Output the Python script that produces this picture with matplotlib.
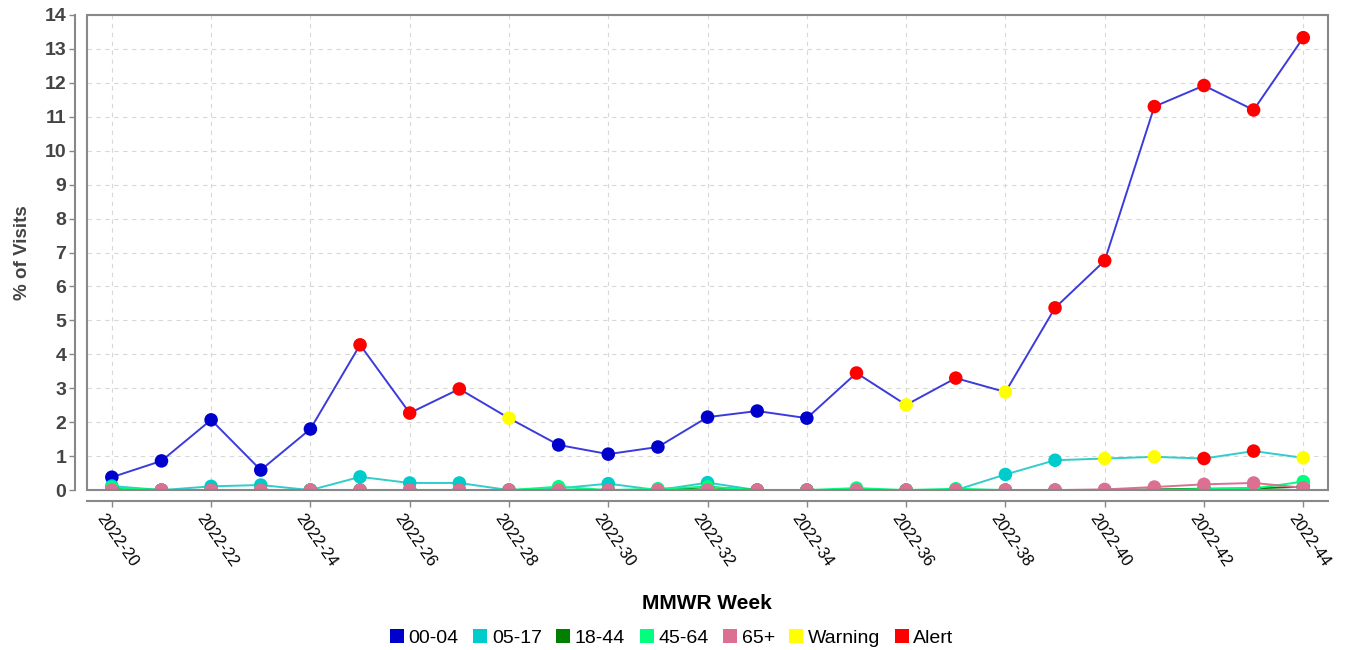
import numpy as np
import matplotlib
matplotlib.use('Agg')
import matplotlib.pyplot as plt
import matplotlib.transforms as mtransforms
from matplotlib.lines import Line2D
from matplotlib.patches import Rectangle

plt.rcParams['font.family'] = ['Liberation Sans', 'DejaVu Sans']

weeks = list(range(20, 45))
week_labels = ['2022-%d' % w for w in weeks]

age_00_04 = [0.38, 0.86, 2.07, 0.59, 1.80, 4.28, 2.27, 2.98, 2.12, 1.33, 1.06, 1.27, 2.15,
             2.33, 2.12, 3.45, 2.51, 3.30, 2.89, 5.37, 6.76, 11.30, 11.92, 11.20, 13.33]
flag_00_04 = ['N', 'N', 'N', 'N', 'N', 'A', 'A', 'A', 'W', 'N', 'N', 'N', 'N',
              'N', 'N', 'A', 'W', 'A', 'W', 'A', 'A', 'A', 'A', 'A', 'A']
age_05_17 = [0.12, 0.00, 0.11, 0.15, 0.00, 0.39, 0.21, 0.21, 0.00, 0.05, 0.19, 0.00, 0.22,
             0.00, 0.00, 0.00, 0.00, 0.00, 0.46, 0.88, 0.93, 0.98, 0.93, 1.15, 0.95]
flag_05_17 = ['N', 'N', 'N', 'N', 'N', 'N', 'N', 'N', 'N', 'N', 'N', 'N', 'N',
              'N', 'N', 'N', 'N', 'N', 'N', 'N', 'W', 'W', 'A', 'A', 'W']
age_18_44 = [0.05, 0.00, 0.00, 0.00, 0.00, 0.00, 0.00, 0.00, 0.00, 0.00, 0.00, 0.00, 0.09,
             0.00, 0.00, 0.00, 0.00, 0.00, 0.00, 0.00, 0.00, 0.02, 0.04, 0.05, 0.10]
age_45_64 = [0.08, 0.00, 0.00, 0.00, 0.00, 0.00, 0.00, 0.00, 0.00, 0.10, 0.00, 0.04, 0.10,
             0.00, 0.00, 0.06, 0.00, 0.04, 0.00, 0.00, 0.00, 0.00, 0.03, 0.05, 0.25]
age_65 = [0.00, 0.00, 0.00, 0.00, 0.00, 0.00, 0.00, 0.00, 0.00, 0.00, 0.00, 0.00, 0.00,
          0.00, 0.00, 0.00, 0.00, 0.00, 0.00, 0.00, 0.02, 0.09, 0.17, 0.21, 0.07]

flag_colors = {'W': '#ffff00', 'A': '#ff0000'}

series = [
    ('00-04', age_00_04, flag_00_04, '#3b3bdc', '#0000cc'),
    ('05-17', age_05_17, flag_05_17, '#33cccc', '#00cccc'),
    ('18-44', age_18_44, None, '#008000', '#007f00'),
    ('45-64', age_45_64, None, '#00ff7f', '#00ff7f'),
    ('65+', age_65, None, '#db7093', '#db7093'),
]

fig = plt.figure(figsize=(13.49, 6.5), dpi=100)
ax = fig.add_axes([0.0645, 0.246, 0.92, 0.731])

# spine positions first: moving a spine rebuilds the ticks
for side in ['top', 'right']:
    ax.spines[side].set_visible(False)
ax.spines['left'].set_position(('outward', 9))
ax.spines['bottom'].set_position(('outward', 8))
for side in ['left', 'bottom']:
    ax.spines[side].set_color('#888888')
    ax.spines[side].set_linewidth(1.5)

for name, vals, flags, lc, mc in series:
    ax.plot(weeks, vals, color=lc, lw=1.4, zorder=3)
    cols = [flag_colors.get(f, mc) for f in flags] if flags else [mc] * len(vals)
    ax.scatter(weeks, vals, s=95, c=cols, zorder=4, linewidths=0)

ax.set_xlim(19.5, 44.5)
ax.set_ylim(0, 14)
ax.tick_params(axis='both', color='#888888', length=4, width=1)
ax.tick_params(axis='x', pad=3)
ax.tick_params(axis='y', pad=2)
ax.set_yticks(range(0, 15))
ax.set_yticklabels([str(v) for v in range(0, 15)], fontsize=14, fontweight='bold',
                   color='#444444')
ax.set_xticks(weeks[::2])
ax.set_xticklabels(week_labels[::2], rotation=-55, ha='left', va='top',
                   rotation_mode='anchor', fontsize=11.8)
shift = mtransforms.ScaledTranslation(-0.055, 0, fig.dpi_scale_trans)
for lab in ax.get_xticklabels():
    lab.set_transform(lab.get_transform() + shift)

ax.grid(True, color='#d8d8d8', linestyle=(0, (4, 4)), linewidth=0.8)
ax.set_axisbelow(True)
ax.add_patch(Rectangle((0, 0), 1, 1, transform=ax.transAxes, fill=False,
                       edgecolor='#888888', lw=1.5, zorder=5, clip_on=False))

fig.text(0.524, 0.071, 'MMWR Week', ha='center', va='center',
         fontsize=15, fontweight='bold')
fig.text(0.017, 0.612, '% of Visits', ha='center', va='center', rotation=90,
         fontsize=13.5, fontweight='bold', color='#444444')

legend_items = [('00-04', '#0000cc'), ('05-17', '#00cccc'), ('18-44', '#007f00'),
                ('45-64', '#00ff7f'), ('65+', '#db7093'), ('Warning', '#ffff00'),
                ('Alert', '#ff0000')]
handles = [Line2D([], [], marker='s', linestyle='none', markersize=10,
                  markerfacecolor=c, markeredgewidth=0, label=n) for n, c in legend_items]
fig.legend(handles=handles, loc='center', bbox_to_anchor=(0.497, 0.018), ncol=7,
           frameon=False, fontsize=14, handletextpad=0.1, columnspacing=0.6,
           handlelength=1.0)

fig.savefig('out.png', dpi=100)
